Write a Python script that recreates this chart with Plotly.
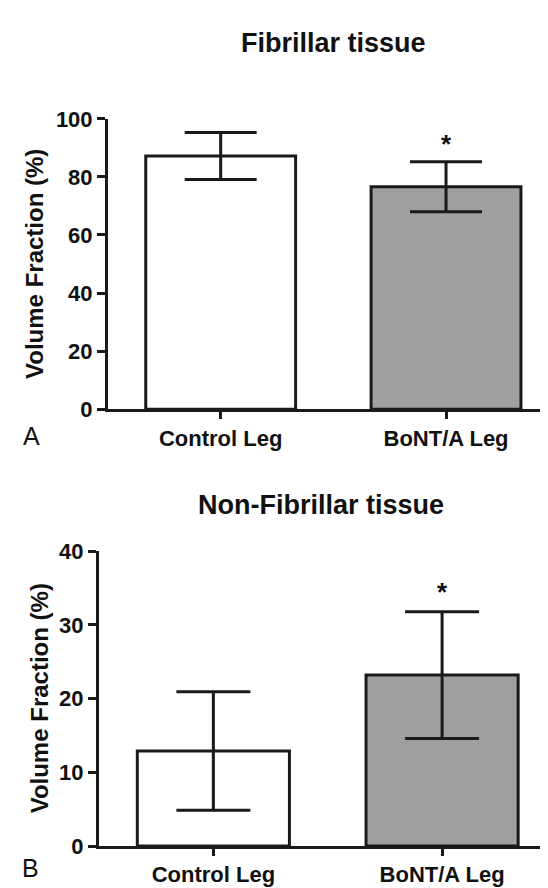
import plotly.graph_objects as go

# ---- data ----
categories = ["Control Leg", "BoNT/A Leg"]
fib_mean = [87.2, 76.6]
fib_sd = [8.1, 8.6]
nonfib_mean = [12.9, 23.2]
nonfib_sd = [8.05, 8.6]
fib_sig_y = 93.0
nonfib_sig_y = 35.2
bar_colors = ["#ffffff", "#a0a0a0"]
fib_yticks = [0, 20, 40, 60, 80, 100]
nonfib_yticks = [0, 10, 20, 30, 40]

W, H = 548, 888
FONT = "Liberation Sans, Arial, Helvetica, sans-serif"
DARK = "#1a1a1a"

def py(px):  # pixel y (from top) -> paper fraction
    return 1 - px / H

def pxx(px):
    return px / W

fig = go.Figure()

fig.add_trace(go.Bar(
    x=categories, y=fib_mean, xaxis="x", yaxis="y",
    marker=dict(color=bar_colors, line=dict(color=DARK, width=3)),
    width=0.665,
    error_y=dict(type="data", array=fib_sd, visible=True, thickness=3, width=36, color=DARK),
    showlegend=False, hoverinfo="skip",
))
fig.add_trace(go.Bar(
    x=categories, y=nonfib_mean, xaxis="x2", yaxis="y2",
    marker=dict(color=bar_colors, line=dict(color=DARK, width=3)),
    width=0.665,
    error_y=dict(type="data", array=nonfib_sd, visible=True, thickness=3, width=37, color=DARK),
    showlegend=False, hoverinfo="skip",
))

tickfont = dict(family=FONT, size=22, color="#111111", weight="bold")

common_x = dict(
    type="category", showline=True, linewidth=3, linecolor=DARK,
    ticks="outside", ticklen=7, tickwidth=3, tickcolor=DARK,
    tickfont=tickfont, showgrid=False, zeroline=False, fixedrange=True,
)
common_y = dict(
    showline=True, linewidth=3, linecolor=DARK,
    ticks="outside", ticklen=8, tickwidth=3, tickcolor=DARK,
    tickfont=tickfont, showgrid=False, zeroline=False, fixedrange=True,
)

fig.update_layout(
    width=W, height=H,
    margin=dict(l=0, r=0, t=0, b=0),
    paper_bgcolor="white", plot_bgcolor="white",
    xaxis=dict(common_x, domain=[pxx(100), 1.0], range=[-0.5, 1.488], anchor="y"),
    yaxis=dict(common_y, domain=[py(400.5), py(101.7)], range=[0, 100],
               tickvals=fib_yticks, anchor="x"),
    xaxis2=dict(common_x, domain=[pxx(91), 1.0], range=[-0.5, 1.498], anchor="y2"),
    yaxis2=dict(common_y, domain=[py(850), py(546.7)], range=[0, 40],
                tickvals=nonfib_yticks, anchor="x2"),
)

ann = []
# titles
ann.append(dict(text="Fibrillar tissue", x=pxx(325), y=py(24), xref="paper", yref="paper",
                showarrow=False, xanchor="center", yanchor="middle",
                font=dict(family=FONT, size=27, color="#111111", weight="bold")))
ann.append(dict(text="Non-Fibrillar tissue", x=pxx(313), y=py(499), xref="paper", yref="paper",
                showarrow=False, xanchor="center", yanchor="middle",
                font=dict(family=FONT, size=27, color="#111111", weight="bold")))
# y-axis titles
ann.append(dict(text="Volume Fraction (%)", x=pxx(27), y=py(251), xref="paper", yref="paper",
                showarrow=False, xanchor="center", yanchor="middle", textangle=-90,
                font=dict(family=FONT, size=24, color="#111111", weight="bold")))
ann.append(dict(text="Volume Fraction (%)", x=pxx(31), y=py(698), xref="paper", yref="paper",
                showarrow=False, xanchor="center", yanchor="middle", textangle=-90,
                font=dict(family=FONT, size=24, color="#111111", weight="bold")))
# panel letters
ann.append(dict(text="A", x=pxx(23.5), y=py(428), xref="paper", yref="paper",
                showarrow=False, xanchor="center", yanchor="middle",
                font=dict(family=FONT, size=25, color="#111111")))
ann.append(dict(text="B", x=pxx(22.5), y=py(873), xref="paper", yref="paper",
                showarrow=False, xanchor="center", yanchor="middle",
                font=dict(family=FONT, size=25, color="#111111")))
# significance stars
ann.append(dict(text="*", x=categories[1], y=fib_sig_y, xref="x", yref="y",
                showarrow=False, xanchor="center", yanchor="middle", yshift=-5,
                font=dict(family=FONT, size=26, color="#111111", weight="bold")))
ann.append(dict(text="*", x=categories[1], y=nonfib_sig_y, xref="x2", yref="y2",
                showarrow=False, xanchor="center", yanchor="middle", yshift=-5,
                font=dict(family=FONT, size=26, color="#111111", weight="bold")))
fig.update_layout(annotations=ann)

fig.write_html("out.html")
